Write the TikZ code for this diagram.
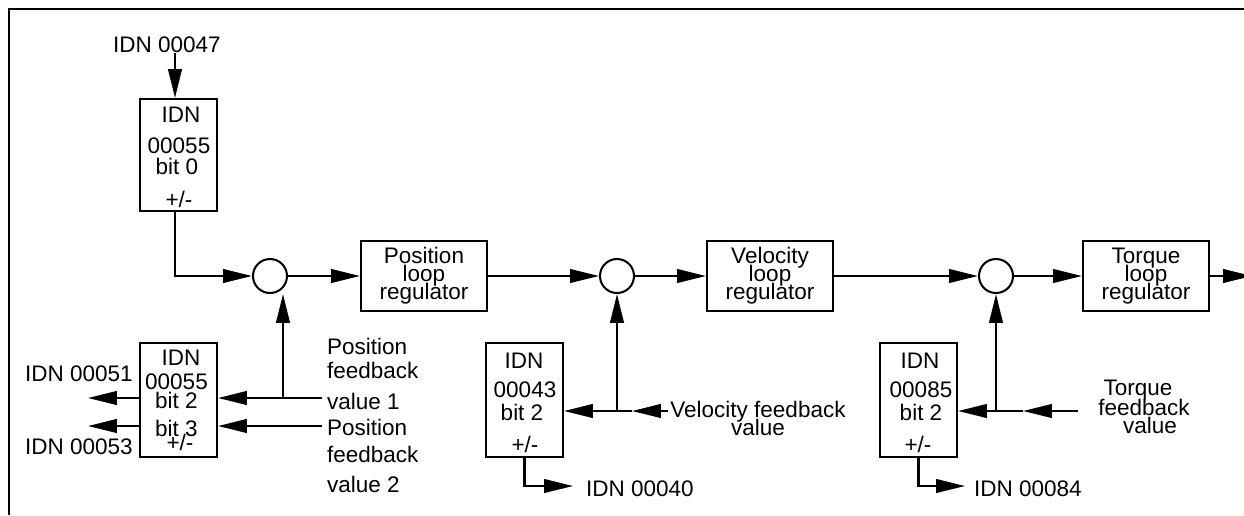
\documentclass[tikz,border=0pt]{standalone}
\usepackage{fontspec}
\setmainfont{Liberation Sans}
\usetikzlibrary{arrows.meta}
\setlength{\lineskiplimit}{-50pt}
\begin{document}
\begin{tikzpicture}[x=0.025cm,y=-0.025cm,line width=1.45pt,
  font=\fontsize{16}{12.8}\selectfont,
  >={Triangle[length=0.72cm,width=0.34cm]},
  lbl/.style={anchor=base,inner sep=0pt},
  lblw/.style={anchor=base west,inner sep=0pt},
  idnbox/.style={draw,minimum width=1.925cm,minimum height=2.85cm,inner sep=0pt},
  regbox/.style={draw,align=center,minimum width=3.15cm,minimum height=1.75cm,inner sep=0pt},
  sumnode/.style={draw,circle,minimum size=0.85cm,inner sep=0pt}]
\useasboundingbox (0,0) rectangle (1244,515);
\draw (9,515)--(9,9)--(1250,9);
\node[idnbox,minimum height=2.8cm] (sgn0) at (178.5,155) {};
\node[idnbox] (sgn23) at (178.5,400) {};
\node[idnbox] (sgn43) at (524.5,400) {};
\node[idnbox] (sgn85) at (918.5,400) {};
\node[sumnode] (sum1) at (270,276) {};
\node[sumnode] (sum2) at (617,276) {};
\node[sumnode] (sum3) at (996,276) {};
\node[regbox] (posreg) at (424,276) {Position\\loop\\regulator};
\node[regbox] (velreg) at (770,276) {Velocity\\loop\\regulator};
\node[regbox] (torreg) at (1146,276) {Torque\\loop\\regulator};
\node[lbl] (idn47) at (167,52) {IDN 00047};
\node[lbl] at (181,122) {IDN};
\node[lbl] at (179,153) {00055};
\node[lbl] at (177,174) {bit 0};
\node[lbl] at (179,207) {+/-};
\node[lbl] at (181,365) {IDN};
\node[lbl] at (176.5,389) {00055};
\node[lbl] at (176.5,408) {bit 2};
\node[lbl] at (176.5,436) {bit 3};
\node[lbl] at (180,450) {+/-};
\node[lbl] at (79,381) {IDN 00051};
\node[lbl] at (79,454) {IDN 00053};
\node[lblw] at (326,354) {Position};
\node[lblw] at (326,378) {feedback};
\node[lblw] at (326,409) {value 1};
\node[lblw] at (326,435) {Position};
\node[lblw] at (326,462) {feedback};
\node[lblw] at (326,492) {value 2};
\node[lbl] at (524,368) {IDN};
\node[lbl] at (525,397) {00043};
\node[lbl] at (522,420) {bit 2};
\node[lbl] at (525,452) {+/-};
\node[lblw] at (585,496) {IDN 00040};
\node[lbl] at (758,417) {Velocity feedback};
\node[lbl] at (758,435) {value};
\node[lbl] at (920,368) {IDN};
\node[lbl] at (921,397) {00085};
\node[lbl] at (921,420) {bit 2};
\node[lbl] at (918,452) {+/-};
\node[lblw] at (973,496) {IDN 00084};
\node[lbl] at (1138,395) {Torque};
\node[lbl] at (1144,415) {feedback};
\node[lbl] at (1150,433) {value};
\coordinate (in47) at (175,53);
\coordinate (out) at (1252,276);
\coordinate (o51) at (88,398);
\coordinate (o53) at (88,426);
\coordinate (pf1) at (322,398);
\coordinate (pf2) at (322,426);
\coordinate (j1) at (283,398);
\coordinate (o40) at (573,486);
\coordinate (vfb) at (668,411);
\coordinate (vmid) at (632,411);
\coordinate (o84) at (965,486);
\coordinate (tfb) at (1078,411);
\coordinate (tmid) at (1023,411);
\draw[->] (in47)--(in47 |- sgn0.north);
\draw[->] (sgn0.south -| in47) |- (sum1.west);
\draw[->] (sum1)--(posreg);
\draw[->] (posreg)--(sum2);
\draw[->] (sum2)--(velreg);
\draw[->] (velreg)--(sum3);
\draw[->] (sum3)--(torreg);
\draw[->] (torreg)--(out);
\draw[->] (o51 -| sgn23.west)--(o51);
\draw[->] (o53 -| sgn23.west)--(o53);
\draw[->] (pf1)--(pf1 -| sgn23.east);
\draw[->] (pf2)--(pf2 -| sgn23.east);
\draw[->] (j1)--(j1 |- sum1.south);
\draw[->] (sgn43.south) |- (o40);
\draw[->] (vfb)--(vmid);
\draw[->] (vmid)--(vmid -| sgn43.east);
\draw[->] (vmid -| sum2)--(sum2);
\draw[->] (sgn85.south) |- (o84);
\draw[->] (tfb)--(tmid);
\draw[->] (tmid)--(tmid -| sgn85.east);
\draw[->] (tmid -| sum3)--(sum3);
\end{tikzpicture}
\end{document}
